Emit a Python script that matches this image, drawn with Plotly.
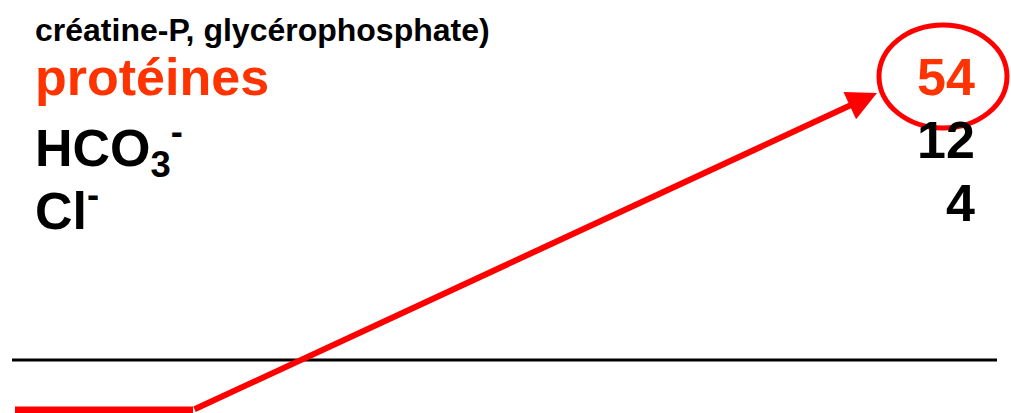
import plotly.graph_objects as go

# slide fragment: ion list with values, red circle + arrow
header_text = "créatine-P, glycérophosphate)"
ion_labels = ["protéines", "HCO<sub>3</sub><sup>-</sup>", "Cl<sup>-</sup>"]
ion_values = ["54", "12", "4"]
ion_baselines = [94, 157, 220]
ion_colors = ["#FF3300", "#000000", "#000000"]

# red path (pixel coordinates of the slide)
path_x = [15, 193]
path_y = [410, 410]
arrow_tail = (193, 410)
arrow_tip = (877, 93)
circle_box = (879, 25, 1007, 128)
rule_x = [12, 997]
rule_y = [360, 360]

W, H = 1011, 413
FONT = "Liberation Sans, Arial, sans-serif"
BIG = 52

fig = go.Figure()

fig.add_trace(go.Scatter(x=rule_x, y=rule_y, mode="lines",
                         line=dict(color="black", width=3), hoverinfo="skip"))
fig.add_trace(go.Scatter(x=path_x, y=path_y, mode="lines",
                         line=dict(color="#FF0000", width=7), hoverinfo="skip"))

fig.add_shape(type="circle", xref="x", yref="y",
              x0=circle_box[0], y0=circle_box[1], x1=circle_box[2], y1=circle_box[3],
              line=dict(color="#FF0000", width=5))

# header line
fig.add_annotation(x=33, y=40 - 30, xref="x", yref="y", text=header_text,
                   showarrow=False, xanchor="left", yanchor="top",
                   font=dict(family=FONT, size=32, color="black", weight="bold"))

for lab, val, base, col in zip(ion_labels, ion_values, ion_baselines, ion_colors):
    fig.add_annotation(x=33, y=base - 48, xref="x", yref="y", text=lab,
                       showarrow=False, xanchor="left", yanchor="top",
                       font=dict(family=FONT, size=BIG, color=col, weight="bold"))
    fig.add_annotation(x=977, y=base - 48, xref="x", yref="y", text=val,
                       showarrow=False, xanchor="right", yanchor="top",
                       font=dict(family=FONT, size=BIG, color=col, weight="bold"))

# arrow
fig.add_annotation(x=arrow_tip[0], y=arrow_tip[1], ax=arrow_tail[0], ay=arrow_tail[1],
                   xref="x", yref="y", axref="x", ayref="y", text="",
                   showarrow=True, arrowhead=2, arrowsize=1.0, arrowwidth=6,
                   arrowcolor="#FF0000", standoff=0, startstandoff=0)

fig.update_xaxes(range=[0, W], visible=False)
fig.update_yaxes(range=[H, 0], visible=False)
fig.update_layout(width=W, height=H, margin=dict(l=0, r=0, t=0, b=0),
                  showlegend=False, plot_bgcolor="white", paper_bgcolor="white")

fig.write_html("out.html", config={"displayModeBar": False},
               post_script="document.body.style.margin='0';")
